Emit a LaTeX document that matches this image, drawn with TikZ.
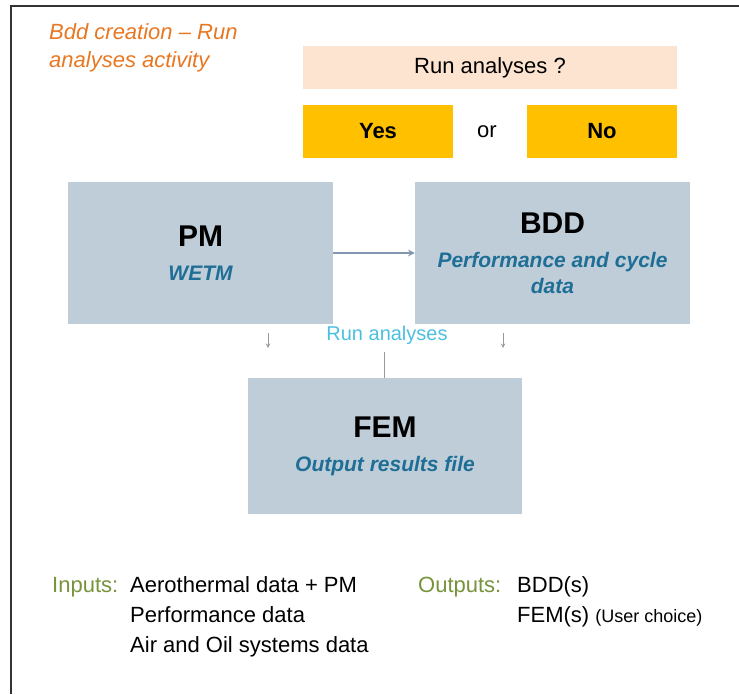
\documentclass[tikz,border=0pt]{standalone}
\usepackage{fontspec}
\setmainfont{Liberation Sans}
\usepackage{xcolor}
\usetikzlibrary{positioning, arrows}
\definecolor{titleorange}{HTML}{E87722}
\definecolor{askpeach}{HTML}{FCE4D0}
\definecolor{choiceyellow}{HTML}{FFC000}
\definecolor{boxgrey}{HTML}{BFCDD9}
\definecolor{subblue}{HTML}{1F6E95}
\definecolor{linkgrey}{HTML}{8497B0}
\definecolor{runcyan}{HTML}{4BBFE0}
\definecolor{labelgreen}{HTML}{77933C}
\newcommand{\boxhead}[1]{{\fontsize{30}{30}\selectfont\bfseries #1}}
\newcommand{\boxsub}[1]{\textcolor{subblue}{\bfseries\itshape #1}}

\begin{document}
\begin{tikzpicture}[x=1pt, y=-1pt, on grid, inner sep=0pt,
    box/.style={rectangle, fill=boxgrey, minimum width=265pt, minimum height=142pt, align=center, font=\fontsize{21}{26}\selectfont},
    choice/.style={rectangle, fill=choiceyellow, minimum width=150pt, minimum height=53pt, font=\fontsize{22}{26}\selectfont\bfseries},
    plain/.style={font=\fontsize{22}{30}\selectfont, align=left},
    tick/.style={draw=black!40, line width=1pt}]
      \useasboundingbox (0,0) rectangle (739,694);
      \draw[line width=2pt, black!80] (11,694) -- (11,6) -- (739,6);

      \node[anchor=north west, align=left, text=titleorange, font=\fontsize{22}{28}\selectfont\itshape] (title) at (49,23) {Bdd creation -- Run\\analyses activity};
      \node[fill=askpeach, minimum width=374pt, minimum height=43pt, font=\fontsize{22}{26}\selectfont] (ask) at (490,67.5) {Run analyses ?};
      \node[choice, below left=64pt and 112pt of ask] (yes) {Yes};
      \node[choice, right=224pt of yes] (no) {No};
      \node[font=\fontsize{22}{26}\selectfont, right=109pt of yes] (or) {or};

      \node[box] (pm) at (200.5,253) {\boxhead{PM}\\[8pt]\boxsub{WETM}};
      \node[box, minimum width=275pt, right=352pt of pm] (bdd) {\boxhead{BDD}\\[8pt]\boxsub{Performance and cycle}\\\boxsub{data}};
      \node[box, minimum width=274pt, minimum height=136pt, below right=193pt and 184.5pt of pm] (fem) {\boxhead{FEM}\\[8pt]\boxsub{Output results file}};
      \node[text=runcyan, font=\fontsize{20}{24}\selectfont] (runlbl) at (387,335) {Run analyses};

      \coordinate (pmtop) at (268,333);
      \coordinate (pmbot) at (268,348);
      \coordinate (bddtop) at (503,333);
      \coordinate (bddbot) at (503,348);
      \coordinate (femtop) at (384,352);

      \draw[linkgrey, line width=2pt, -stealth] (pm) -- (bdd);
      \draw[tick, -stealth] (pmtop) -- (pmbot);
      \draw[tick, -stealth] (bddtop) -- (bddbot);
      \draw[tick] (femtop) -- (femtop |- fem.north);

      \node[plain, anchor=base west, text=labelgreen] (inlbl) at (52,592) {Inputs:};
      \node[plain, anchor=north west] (inlist) at (130,576) {Aerothermal data + PM\\Performance data\\Air and Oil systems data};
      \node[plain, anchor=base west, text=labelgreen] (outlbl) at (418,592) {Outputs:};
      \node[plain, anchor=north west] (outlist) at (517,576) {BDD(s)\\FEM(s) {\fontsize{18}{20}\selectfont(User choice)}};
    \end{tikzpicture}
\end{document}
